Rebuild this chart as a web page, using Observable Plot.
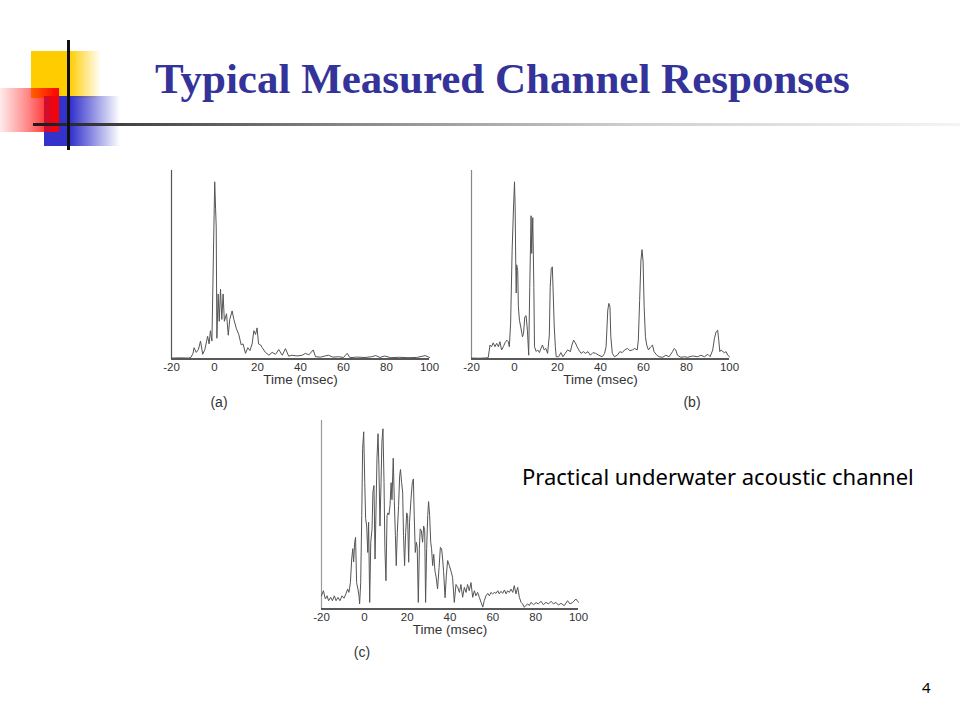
<!DOCTYPE html>
<html>
<head>
<meta charset="utf-8">
<script src="https://cdn.jsdelivr.net/npm/d3@7"></script>
<script src="https://cdn.jsdelivr.net/npm/@observablehq/plot@0.6"></script>
<style>
  html, body { margin: 0; padding: 0; background: #fff; }
  #slide { position: relative; width: 960px; height: 720px; overflow: hidden; background: #fff; }
  .abs { position: absolute; }
  #title { left: 155px; top: 57px; font-family: "Liberation Serif", "Times New Roman", serif; font-weight: bold; font-size: 43px; line-height: 43px; color: #333399; white-space: nowrap; }
  #note { left: 522px; top: 462px; font-family: "Noto Sans", "Open Sans", sans-serif; font-size: 22px; line-height: 28px; color: #000; white-space: nowrap; }
  #pagenum { left: 922px; top: 677px; font-family: "Noto Sans", sans-serif; font-size: 15px; line-height: 20px; color: #000; }
  .cap { font-family: "Liberation Sans", Arial, sans-serif; font-size: 14px; color: #333; transform: translateX(-50%); line-height: 14px; }
  .panel svg [aria-label="x-axis label"] text, .panel svg [aria-label="x-axis label"] { font-size: 13.5px; }
</style>
</head>
<body>
<div id="slide">
  <!-- decoration -->
  <div class="abs" style="left:31px;top:51px;width:70px;height:47px;background:linear-gradient(to right,#FFCC00 0%,#FFCC00 55%,rgba(255,204,0,0) 100%);"></div>
  <div class="abs" style="left:44px;top:96px;width:76px;height:50px;background:linear-gradient(to right,#3333CC 0%,#3333CC 35%,rgba(51,51,204,0) 100%);"></div>
  <div class="abs" style="left:0px;top:88px;width:59px;height:44px;background:linear-gradient(to right,rgba(255,0,0,0.08) 0%,rgba(255,0,0,0.45) 45%,#FF0000 100%);"></div>
  <div class="abs" style="left:33px;top:123px;width:927px;height:3px;background:linear-gradient(to right,#1a1a1a 0%,#444 10%,#8a8a8a 35%,#cfcfcf 65%,#f4f4f4 100%);"></div>
  <div class="abs" style="left:67px;top:40px;width:3px;height:110px;background:#111;"></div>

  <div id="title" class="abs">Typical Measured Channel Responses</div>
  <div id="note" class="abs">Practical underwater acoustic channel</div>
  <div id="pagenum" class="abs">4</div>

  <div id="pa" class="abs panel" style="left:131px;top:160px;"></div>
  <div id="pb" class="abs panel" style="left:431px;top:160px;"></div>
  <div id="pc" class="abs panel" style="left:281px;top:410px;"></div>

  <div class="abs cap" style="left:219px;top:395px;">(a)</div>
  <div class="abs cap" style="left:692px;top:395px;">(b)</div>
  <div class="abs cap" style="left:362px;top:645px;">(c)</div>
</div>
<script>
// ---- data ----
const xDomain = [-20, 100];
const yDomain = [0, 100];
const xTicks = [-20, 0, 20, 40, 60, 80, 100];
const xLabel = "Time (msec)";

const timesA = [-20,-16,-12,-11,-10,-9.5,-8.5,-7.5,-6.5,-5.5,-4.5,-3.2,-2.5,-1.9,-1.2,-0.4,0.1,0.5,0.8,1.1,1.7,2.2,2.8,3.4,4.0,4.6,5.6,6.4,7.1,8.2,9.0,10.2,11.3,12.4,13.3,14.4,15.5,16.5,17.5,18.3,19.1,19.8,20.5,21.4,22.2,23.7,25.3,26.8,28.4,29.9,31.5,33,34.5,36,38.4,40.8,42.3,43.9,45.9,47,49.3,51,53,55,57.8,60,61.7,63,66,70,73,75,77,79,82,86,90,94,98,100];
const valuesA = [0.5,0.6,0.5,0.8,3,6,3.5,5,9.5,2.5,5,12,8,15,9.5,62,94,80,70,11,34.5,20,37,21,34.5,20,24,12.6,21,25.5,21,16,13,7.5,8,3,6,4.5,8,15,13,16.5,8,7.5,6,3.5,2,3.5,2.5,5,2,5.5,1.5,2,1.6,2,3,2.2,4.8,1.2,1,1.5,2,1,1.2,0.8,3,0.7,1,0.8,1.2,1.8,0.8,1.6,0.7,0.9,0.7,0.8,1.8,0.8];

const timesB = [-20,-16,-13,-12.2,-11.4,-10.7,-9.9,-9.1,-8.3,-7.5,-6.8,-6.0,-5.2,-4.4,-3.6,-2.9,-2.4,-1.8,-1.1,-0.5,0,0.3,0.6,0.8,1.0,1.5,1.8,2.3,2.9,3.7,4.2,4.8,5.4,6.0,6.6,7.1,7.7,8.0,8.5,9.0,9.3,10.1,10.8,11.6,12.3,13.0,13.8,14.6,15.4,16.2,16.6,17.1,17.6,18.0,18.5,19.0,19.4,20.5,21.6,22.5,23.6,24.7,26.0,26.7,27.5,28.3,29.1,29.9,31.0,32.0,33.0,34.2,35.3,36.5,37.7,39.2,40.8,41.9,42.6,43.4,43.9,44.4,44.8,45.5,46.5,47.8,49.0,50.1,51.2,52.5,53.7,54.8,55.9,57.1,57.6,58.2,58.8,59.3,59.8,60.3,60.9,61.5,62.3,63.4,64.2,64.9,66.2,67.3,68.9,70.4,71.9,73.5,74.3,75.0,75.8,77.4,79.0,80.5,82.8,85.2,86.7,88.3,89.9,91.0,92.2,93.0,93.8,94.5,95.0,95.5,96.1,96.9,97.7,98.4,99.2,100];
const valuesB = [0.5,0.4,0.6,0.8,7.4,6.5,8.6,6.5,8.3,6.5,9.2,4.8,6.5,8.6,10,9.2,6.5,19,57.7,79,94,80.6,49,35,50,47,27.7,20.6,17,11.8,13.6,22.4,23,15.3,2,38,76,56,75,38,6.5,4,4.8,3.4,5.6,7.4,4.8,5.6,3,12.7,38,48,48.9,35,17,6.5,1.2,1.2,3.4,1.2,3,4.8,3.9,7.4,10,8.6,6.5,4.8,3,3.9,3,3.9,2,3.4,3,2,1.2,3,6.5,26,29.5,27.7,11.8,3,1.2,2,3.9,3.4,4.8,5.6,4.4,4.8,5.6,4.8,10,31,52,58,52,27.7,11.8,7.4,4.8,6.5,7.4,3.9,2,1.2,0.9,2,1.2,3.9,5.6,4.8,2,0.9,1.2,0.9,1.6,1.2,2,1.2,2.5,1.2,4.8,11,14.5,15.3,10,3.9,4.8,3.9,3.4,3.9,2,1.2];

const timesC = [-20,-19.1,-18.2,-17.4,-16.7,-15.7,-14.9,-14,-13.2,-12.3,-11.4,-10.4,-9.5,-8.6,-7.8,-7.2,-6.5,-5.9,-5.4,-5.0,-4.5,-4.1,-3.6,-3.0,-2.5,-2.2,-1.7,-1.2,-0.8,-0.3,0.2,0.6,1.1,1.6,2.0,2.5,3.0,3.6,4.0,4.5,5.0,5.4,5.9,6.4,6.8,7.3,7.8,8.2,8.7,9.2,9.6,10.1,10.6,11.0,11.5,12.0,12.5,12.9,13.5,14.0,14.5,14.9,15.4,16.0,16.5,16.9,17.4,17.9,18.3,18.8,19.3,19.8,20.2,20.7,21.1,21.8,22.4,22.9,23.3,23.8,24.3,24.7,25.2,25.7,26.1,26.6,27.2,27.7,28.2,28.6,29.1,29.6,30.0,30.5,31.0,31.4,31.9,32.4,33.0,33.5,34.2,34.9,35.5,36.1,36.6,37.0,37.7,38.3,38.9,39.7,40.5,41.2,42.0,42.8,43.6,44.4,45.1,45.9,46.7,47.5,48.2,49.0,49.8,50.6,51.4,52.1,52.9,53.7,54.5,55.3,56.0,56.8,57.6,58.4,59.1,59.9,60.7,61.5,62.3,63.0,63.8,64.6,65.4,66.2,66.9,67.7,68.5,69.3,70.0,70.8,71.6,72.4,73.2,73.9,74.7,75.5,76.3,77.0,77.8,79.0,80.2,81.2,82.5,83.6,84.8,86.0,87.2,88.3,89.5,90.6,91.8,93.4,94.9,96.0,97.3,98.8,99.6,100];
const valuesC = [7,9.7,5.3,7,4.4,6.2,4.4,7,4.4,6.2,4.4,7,5.7,8,10.6,8.8,14,26.5,32,25,35.4,38,14,10.6,7,2.7,14,49.5,85,94,67,48,44,30,46,3.5,35.4,42.5,62,65.5,26.5,49.5,80,93,76,44,67,88.5,95.6,67,32,15,49.5,51,50,55,67,58,80,57,39,23,40.7,54.9,70.8,74,67,62,39,23,40.7,51,49.5,24.8,46,58.4,67,69,49.5,30,35.4,32.7,3.5,32,42.5,41.6,35.4,44,41.6,3.5,32,49.5,57,49.5,35.4,32,23,29,20,17,10.6,22,32.7,31.9,26,20,6,18,25.7,23,20,16.8,3.5,13,11.5,8.8,13,6.2,11.5,8.8,13,9.7,14,6.2,9.7,7,8.8,6.2,3.5,1,4.4,7,8.3,7,8.8,8,8.8,8.3,9.7,8,9.4,8.3,10.1,8,9.7,8.8,10.6,8.8,12.4,8,11.5,6.2,3.5,2.7,0.9,2,2.7,1.8,3.5,2.3,3.4,2.7,4.1,2.3,3.5,2.7,4.1,2.7,3.5,2.1,3.0,1.8,4.4,2.7,3.5,5.3,4.1,3.5];

// ---- drawing ----
function panel(times, values, opts) {
  const rows = times.map((t, i) => ({t, v: values[i]}));
  return Plot.plot({
    width: 340,
    height: 255,
    marginLeft: 40,
    marginRight: opts.marginRight,
    marginTop: 10,
    marginBottom: 56.5,
    x: {domain: xDomain, ticks: xTicks, tickFormat: d => String(d), tickSize: 0, tickPadding: 4, label: xLabel, labelAnchor: "center", labelArrow: "none", labelOffset: 25},
    y: {domain: yDomain, axis: null},
    style: {fontFamily: "'Liberation Sans', Arial, sans-serif", fontSize: "11.5px", color: "#333", background: "transparent", overflow: "visible"},
    marks: [
      Plot.ruleX([xDomain[0]], {stroke: opts.axisColor, strokeWidth: 1.2}),
      Plot.ruleY([yDomain[0]], {stroke: "#222", strokeWidth: 1.6}),
      Plot.line(rows, {x: "t", y: "v", stroke: "#555", strokeWidth: 1})
    ]
  });
}

document.getElementById("pa").append(panel(timesA, valuesA, {marginRight: 42, axisColor: "#555"}));
document.getElementById("pb").append(panel(timesB, valuesB, {marginRight: 42, axisColor: "#888"}));
document.getElementById("pc").append(panel(timesC, valuesC, {marginRight: 43, axisColor: "#999"}));
</script>
</body>
</html>
